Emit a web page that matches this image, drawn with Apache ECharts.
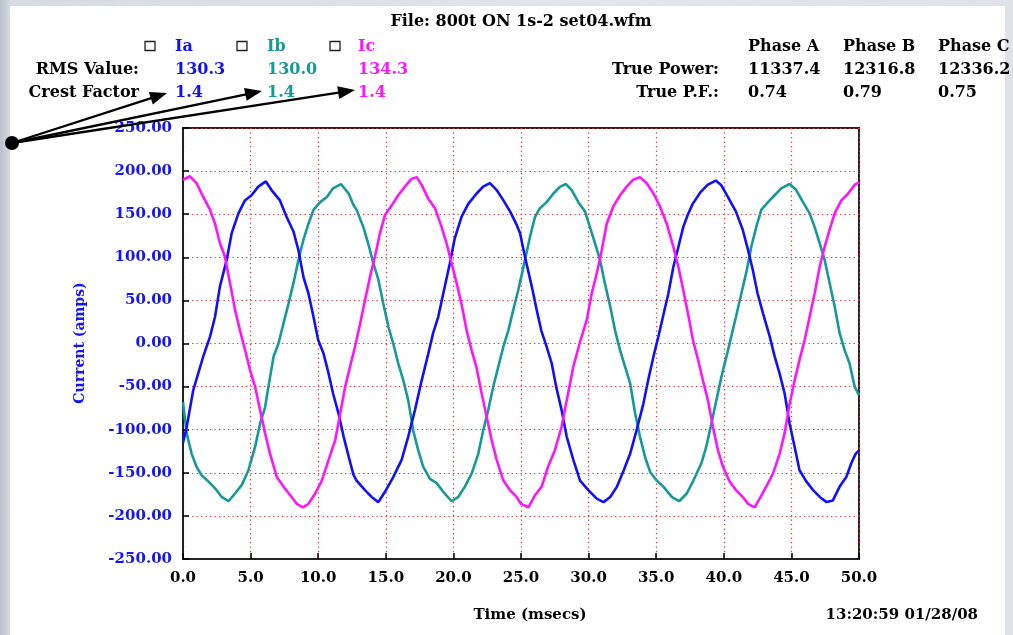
<!DOCTYPE html>
<html>
<head>
<meta charset="utf-8">
<script src="https://cdn.jsdelivr.net/npm/echarts@6/dist/echarts.min.js"></script>
<style>
  html, body { margin:0; padding:0; width:1013px; height:635px; overflow:hidden; }
  body { background: linear-gradient(90deg, #b9c0c9 0%, #d6dbe1 1%, #e3e6ea 60%, #dfe2e6 100%); position:relative; }
  #panel { position:absolute; left:10px; top:6px; width:995px; height:629px; background:#fff; }
  #chart { position:absolute; left:0; top:0; width:1013px; height:635px; }
</style>
</head>
<body>
<div id="panel"></div>
<div id="chart"></div>
<script>
// ---------- data ----------
const fileTitle = 'File: 800t ON 1s-2 set04.wfm';
const channelNames = ['Ia', 'Ib', 'Ic'];
const channelColors = ['#1010ff', '#159a9a', '#ff14ff'];
const rmsValues = ['130.3', '130.0', '134.3'];
const crestFactors = ['1.4', '1.4', '1.4'];
const phaseNames = ['Phase A', 'Phase B', 'Phase C'];
const truePower = ['11337.4', '12316.8', '12336.2'];
const truePF = ['0.74', '0.79', '0.75'];
const xAxisTitle = 'Time (msecs)';
const yAxisTitle = 'Current (amps)';
const timeStamp = '13:20:59 01/28/08';

// [time (ms), current (A)]
const iaPoints = [[0,-115],[0.27,-97],[0.76,-54],[1.5,-15],[2.0,8],[2.37,31],[2.73,66],[3.23,97],[3.6,128],[4.1,151],[4.58,166],[5.07,172],[5.57,182],[6.13,188],[6.55,178],[7.17,166],[7.66,147],[8.17,130],[8.54,108],[8.91,77],[9.28,58],[9.65,31],[10.0,4],[10.4,-12],[10.77,-35],[11.1,-58],[11.5,-81],[11.88,-108],[12.25,-131],[12.6,-152],[12.84,-159],[13.46,-170],[13.95,-178],[14.45,-184],[14.94,-172],[15.55,-155],[16.17,-135],[16.66,-108],[17.16,-77],[17.65,-43],[18.14,-12],[18.5,12],[18.88,31],[19.25,58],[19.74,93],[20.1,122],[20.6,147],[21.1,162],[21.72,174],[22.2,182],[22.7,186],[23.2,178],[23.7,166],[24.2,153],[24.7,137],[24.93,128],[25.3,100],[25.8,66],[26.16,39],[26.5,15],[26.9,-4],[27.27,-23],[27.6,-50],[28.0,-77],[28.38,-108],[28.87,-135],[29.37,-159],[29.98,-170],[30.6,-180],[31.1,-184],[31.6,-178],[32.1,-166],[32.6,-147],[33.07,-128],[33.56,-100],[34.05,-70],[34.4,-43],[34.8,-15],[35.16,8],[35.5,31],[35.9,58],[36.27,89],[36.64,112],[37.0,135],[37.35,150],[37.7,162],[38.3,176],[38.8,184],[39.4,189],[39.8,184],[40.3,170],[40.9,153],[41.4,132],[41.8,108],[42.15,85],[42.5,58],[42.9,35],[43.4,8],[43.76,-15],[44.13,-35],[44.5,-58],[44.87,-93],[45.24,-120],[45.6,-147],[46.1,-160],[46.6,-170],[47.1,-178],[47.6,-184],[48.07,-182],[48.57,-166],[49.06,-155],[49.43,-139],[49.75,-128],[50,-124]];
const ibPoints = [[0,-68],[0.27,-104],[0.64,-128],[1.0,-143],[1.38,-153],[1.88,-160],[2.37,-168],[2.86,-178],[3.36,-183],[3.85,-174],[4.35,-164],[4.84,-147],[5.33,-120],[5.7,-93],[6.07,-74],[6.32,-50],[6.7,-15],[7.06,0],[7.43,23],[7.8,46],[8.17,70],[8.54,97],[8.9,120],[9.28,139],[9.65,155],[10.15,164],[10.64,170],[11.1,180],[11.68,185],[12.25,174],[12.6,161],[12.84,155],[13.34,135],[13.7,116],[14.08,93],[14.45,74],[14.82,46],[15.2,19],[15.55,0],[15.92,-23],[16.3,-43],[16.66,-66],[17.03,-101],[17.4,-124],[17.77,-143],[18.27,-157],[18.76,-162],[19.25,-172],[19.87,-183],[20.36,-178],[20.85,-166],[21.35,-151],[21.84,-128],[22.2,-101],[22.58,-77],[22.95,-50],[23.32,-27],[23.69,-4],[24.06,15],[24.43,39],[24.8,62],[25.17,88],[25.67,124],[26.04,147],[26.4,157],[26.9,164],[27.4,174],[27.9,182],[28.33,185],[28.75,178],[29.24,164],[29.74,153],[30.1,135],[30.48,116],[30.85,97],[31.2,70],[31.6,43],[31.96,15],[32.33,-8],[32.7,-27],[33.07,-46],[33.44,-81],[33.8,-108],[34.18,-132],[34.55,-149],[35.04,-159],[35.53,-166],[36.15,-178],[36.7,-183],[37.26,-174],[37.75,-159],[38.34,-139],[38.7,-120],[39.08,-93],[39.45,-66],[39.82,-39],[40.2,-15],[40.55,8],[40.9,31],[41.3,58],[41.7,85],[42.03,112],[42.4,135],[42.77,155],[43.27,164],[43.76,172],[44.25,180],[44.87,185],[45.36,178],[45.86,164],[46.35,151],[46.72,135],[47.1,116],[47.46,97],[47.83,70],[48.2,43],[48.57,12],[48.94,-8],[49.3,-23],[49.68,-50],[50,-60]];
const icPoints = [[0,190],[0.52,194],[1.0,186],[1.5,170],[2.0,155],[2.37,139],[2.74,116],[3.1,101],[3.48,70],[3.85,39],[4.22,15],[4.6,-8],[4.96,-31],[5.33,-50],[5.7,-77],[6.07,-104],[6.44,-128],[6.94,-155],[7.43,-166],[7.93,-176],[8.42,-186],[8.86,-190],[9.28,-186],[9.78,-174],[10.27,-159],[10.77,-135],[11.26,-112],[11.63,-81],[12.0,-50],[12.4,-24],[12.72,-4],[13.1,23],[13.46,50],[13.83,77],[14.2,101],[14.57,128],[14.94,149],[15.43,160],[15.92,172],[16.42,182],[16.9,191],[17.28,193],[17.65,184],[18.14,168],[18.64,157],[19.13,135],[19.5,116],[19.87,93],[20.24,70],[20.6,46],[20.98,15],[21.35,-8],[21.7,-27],[22.09,-58],[22.46,-85],[22.83,-112],[23.2,-135],[23.7,-159],[24.18,-170],[24.68,-178],[25.0,-186],[25.55,-190],[26.04,-176],[26.53,-166],[27.0,-143],[27.5,-124],[28.0,-97],[28.38,-66],[28.87,-27],[29.37,2],[29.86,27],[30.23,58],[30.6,81],[30.97,108],[31.34,139],[31.83,159],[32.33,172],[32.82,182],[33.3,190],[33.8,193],[34.3,186],[34.8,174],[35.28,159],[35.78,139],[36.27,112],[36.64,89],[37.0,62],[37.35,35],[37.72,4],[38.1,-19],[38.46,-43],[38.83,-66],[39.2,-97],[39.57,-124],[39.94,-143],[40.43,-160],[40.9,-170],[41.4,-178],[41.8,-186],[42.28,-190],[42.65,-180],[43.14,-166],[43.64,-151],[44.13,-128],[44.5,-104],[44.87,-70],[45.24,-43],[45.6,-19],[45.98,4],[46.35,31],[46.72,58],[47.09,89],[47.46,112],[47.83,132],[48.2,151],[48.7,166],[49.2,174],[49.68,184],[50,187]];

const xMin = 0, xMax = 50, xStep = 5;
const yMin = -250, yMax = 250, yStep = 50;

// ---------- chart ----------
const FONT = '"DejaVu Serif", "Liberation Serif", serif';
const chart = echarts.init(document.getElementById('chart'), null, { renderer: 'canvas' });

function txt(x, y, text, fill, align, size, extra) {
  return Object.assign({
    type: 'text', x: x, y: y, z: 10,
    style: { text: text, fill: fill, font: 'bold ' + size + 'px ' + FONT,
             align: align, verticalAlign: 'middle', textAlign: align, textVerticalAlign: 'middle' }
  }, extra || {});
}
function arrow(x1, y1, x2, y2) {
  const dx = x2 - x1, dy = y2 - y1, L = Math.sqrt(dx*dx + dy*dy);
  const ux = dx / L, uy = dy / L, hl = 17, hw = 6.5;
  const bx = x2 - ux*hl, by = y2 - uy*hl;
  return [
    { type: 'line', z: 20, shape: { x1: x1, y1: y1, x2: bx + ux*2, y2: by + uy*2 }, style: { stroke: '#000', lineWidth: 2.3 } },
    { type: 'polygon', z: 20, shape: { points: [[x2, y2], [bx - uy*hw, by + ux*hw], [bx + uy*hw, by - ux*hw]] }, style: { fill: '#000' } }
  ];
}

const colX = [175, 267, 358];
const boxX = [145, 237, 330];
const phaseX = [748, 843, 938];
const graphics = [];
graphics.push(txt(521, 22, fileTitle, '#000', 'center', 16));
for (let i = 0; i < 3; i++) {
  graphics.push({ type: 'rect', z: 10, shape: { x: boxX[i], y: 41.5, width: 10, height: 9 }, style: { fill: '#fff', stroke: '#222', lineWidth: 1.3 } });
  graphics.push(txt(colX[i], 47, channelNames[i], channelColors[i], 'left', 16));
  graphics.push(txt(colX[i], 70, rmsValues[i], channelColors[i], 'left', 16));
  graphics.push(txt(colX[i], 93, crestFactors[i], channelColors[i], 'left', 16));
  graphics.push(txt(phaseX[i], 47, phaseNames[i], '#000', 'left', 16));
  graphics.push(txt(phaseX[i], 70, truePower[i], '#000', 'left', 16));
  graphics.push(txt(phaseX[i], 93, truePF[i], '#000', 'left', 16));
}
graphics.push(txt(139, 70, 'RMS Value:', '#000', 'right', 16));
graphics.push(txt(139, 93, 'Crest Factor', '#000', 'right', 16));
graphics.push(txt(719, 70, 'True Power:', '#000', 'right', 16));
graphics.push(txt(719, 93, 'True P.F.:', '#000', 'right', 16));
graphics.push(txt(530, 615, xAxisTitle, '#000', 'center', 15));
graphics.push(txt(978, 615, timeStamp, '#000', 'right', 15));
graphics.push(txt(80, 343, yAxisTitle, '#1414ff', 'center', 14, { rotation: Math.PI / 2 }));
// annotation arrows
const dot = [12, 143];
[[167, 93], [262, 91], [355, 90]].forEach(function (t) { arrow(dot[0], dot[1], t[0], t[1]).forEach(function (g) { graphics.push(g); }); });
graphics.push({ type: 'circle', z: 21, shape: { cx: dot[0], cy: dot[1], r: 7 }, style: { fill: '#000' } });

const gridLine = { show: true, lineStyle: { color: '#ff2a2a', width: 1.2, type: [1.3, 3.2] } };

chart.setOption({
  backgroundColor: 'transparent',
  animation: false,
  grid: { left: 183, top: 128, right: 154, bottom: 76, show: true, borderColor: '#222', borderWidth: 2, backgroundColor: 'transparent' },
  xAxis: {
    type: 'value', min: xMin, max: xMax, interval: xStep,
    axisLine: { show: true, onZero: false, lineStyle: { color: '#222', width: 2 } },
    axisTick: { show: true, inside: true, length: 6, lineStyle: { color: '#000', width: 1.5 } },
    axisLabel: { margin: 12, color: '#000', fontFamily: FONT, fontWeight: 'bold', fontSize: 15, formatter: function (v) { return v.toFixed(1); } },
    splitLine: gridLine
  },
  yAxis: {
    type: 'value', min: yMin, max: yMax, interval: yStep,
    axisLine: { show: true, onZero: false, lineStyle: { color: '#222', width: 2 } },
    axisTick: { show: true, inside: true, length: 6, lineStyle: { color: '#000', width: 1.5 } },
    axisLabel: { margin: 11, color: '#1414ff', fontFamily: FONT, fontWeight: 'bold', fontSize: 15, formatter: function (v) { return v.toFixed(2); } },
    splitLine: gridLine
  },
  series: [
    { name: channelNames[0], type: 'line', data: iaPoints, showSymbol: false, lineStyle: { color: channelColors[0], width: 2.6 }, itemStyle: { color: channelColors[0] }, z: 3 },
    { name: channelNames[1], type: 'line', data: ibPoints, showSymbol: false, lineStyle: { color: channelColors[1], width: 2.6 }, itemStyle: { color: channelColors[1] }, z: 2 },
    { name: channelNames[2], type: 'line', data: icPoints, showSymbol: false, lineStyle: { color: channelColors[2], width: 2.6 }, itemStyle: { color: channelColors[2] }, z: 4 }
  ],
  graphic: graphics
});
</script>
</body>
</html>
